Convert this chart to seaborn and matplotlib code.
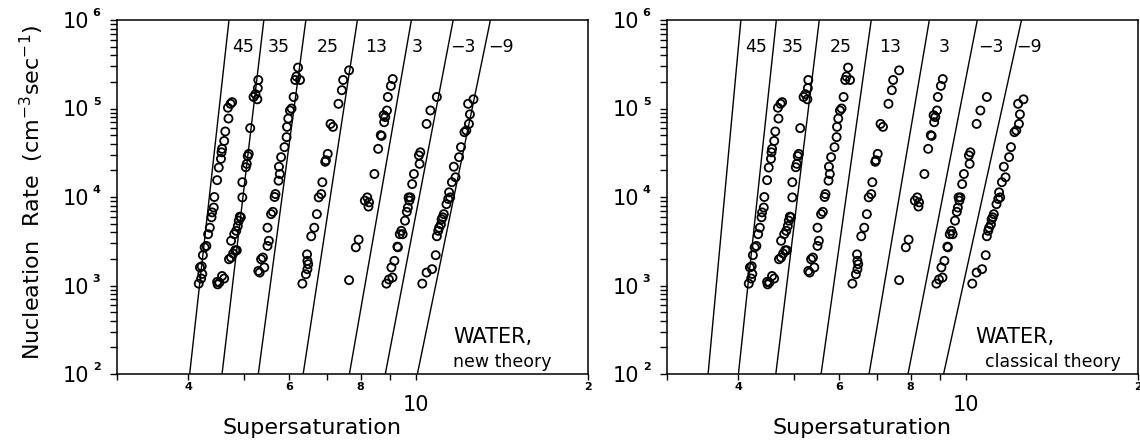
import numpy as np
import pandas as pd
import matplotlib
matplotlib.use("Agg")
import matplotlib.pyplot as plt
import matplotlib.transforms as mtransforms
from matplotlib.ticker import FixedLocator, FixedFormatter, NullFormatter, LogLocator
import seaborn as sns

# Temperatures (deg C) of the measurement series
temps = ["45", "35", "25", "13", "3", "-3", "-9"]
temp_labels = ["45", "35", "25", "13", "3", "\u22123", "\u22129"]

# Measured supersaturation S and nucleation rate J (cm^-3 s^-1) per temperature
s_45 = [4.17, 4.21, 4.23, 4.19, 4.22, 4.24, 4.27, 4.30, 4.33, 4.36, 4.39, 4.40, 4.43,
        4.44, 4.49, 4.52, 4.56, 4.57, 4.58, 4.62, 4.64, 4.70, 4.69, 4.74, 4.77]
j_45 = [1.05e3, 1.2e3, 1.35e3, 1.6e3, 1.65e3, 2.2e3, 2.7e3, 2.8e3, 3.8e3, 4.5e3, 5.9e3,
        6.7e3, 7.6e3, 1.0e4, 1.55e4, 2.15e4, 2.7e4, 3.2e4, 3.5e4, 4.3e4, 5.5e4, 7.7e4,
        1.02e5, 1.13e5, 1.18e5]

s_35 = [4.50, 4.49, 4.53, 4.58, 4.62, 4.71, 4.75, 4.79, 4.83, 4.86, 4.75, 4.81, 4.85,
        4.88, 4.90, 4.94, 4.92, 4.97, 4.97, 5.04, 5.06, 5.08, 5.10, 5.13, 5.20, 5.24,
        5.28, 5.29, 5.30]
j_35 = [1.03e3, 1.1e3, 1.08e3, 1.28e3, 1.2e3, 1.98e3, 2.07e3, 2.3e3, 2.5e3, 2.5e3, 3.2e3,
        3.8e3, 4.15e3, 4.7e3, 5.4e3, 5.9e3, 6.0e3, 9.9e3, 1.47e4, 2.17e4, 2.37e4, 2.9e4,
        3.07e4, 6.0e4, 1.35e5, 1.45e5, 1.27e5, 1.7e5, 2.1e5]

s_25 = [5.30, 5.33, 5.36, 5.40, 5.43, 5.50, 5.53, 5.50, 5.58, 5.62, 5.66, 5.68, 5.75,
        5.78, 5.76, 5.81, 5.89, 5.94, 5.95, 5.98, 6.02, 6.06, 6.11, 6.15, 6.18, 6.22, 6.27]
j_25 = [1.46e3, 1.4e3, 1.98e3, 2.07e3, 1.6e3, 2.8e3, 3.2e3, 4.5e3, 6.4e3, 6.8e3, 1.0e4,
        1.08e4, 1.53e4, 1.82e4, 2.2e4, 2.82e4, 3.66e4, 4.75e4, 6.2e4, 7.7e4, 9.5e4,
        1.0e5, 1.35e5, 2.1e5, 2.3e5, 2.9e5, 2.1e5]

s_13 = [6.33, 6.42, 6.46, 6.48, 6.46, 6.45, 6.56, 6.64, 6.71, 6.76, 6.83, 6.86, 6.94,
        7.01, 6.96, 7.09, 7.16, 7.32, 7.42, 7.46, 7.64]
j_13 = [1.05e3, 1.34e3, 1.53e3, 1.74e3, 1.9e3, 2.25e3, 3.6e3, 4.5e3, 6.4e3, 9.9e3,
        1.08e4, 1.47e4, 2.5e4, 3.07e4, 2.6e4, 6.7e4, 6.2e4, 1.13e5, 1.61e5, 2.1e5, 2.7e5]

s_3 = [7.64, 7.85, 7.94, 8.14, 8.22, 8.28, 8.26, 8.46, 8.59, 8.68, 8.71, 8.80, 8.84,
       8.78, 8.90, 8.93, 9.04, 9.11]
j_3 = [1.15e3, 2.7e3, 3.3e3, 9.1e3, 9.9e3, 8.7e3, 7.8e3, 1.82e4, 3.5e4, 5.0e4, 4.9e4,
       7.0e4, 8.0e4, 8.4e4, 9.5e4, 1.35e5, 1.8e5, 2.15e5]

s_m3 = [8.88, 8.97, 9.06, 9.10, 9.17, 9.30, 9.28, 9.37, 9.43, 9.48, 9.57, 9.64, 9.68,
        9.74, 9.78, 9.71, 9.85, 9.92, 10.15, 10.12, 10.18, 10.44, 10.60, 10.88]
j_m3 = [1.05e3, 1.17e3, 1.6e3, 1.23e3, 1.9e3, 2.7e3, 2.75e3, 3.8e3, 4.15e3, 3.8e3,
        5.4e3, 6.8e3, 7.6e3, 9.1e3, 9.9e3, 9.9e3, 1.4e4, 1.82e4, 2.37e4, 2.95e4,
        3.2e4, 6.7e4, 9.5e4, 1.35e5]

s_m9 = [10.26, 10.44, 10.67, 10.83, 10.88, 10.94, 10.98, 11.06, 11.14, 11.19, 11.09,
        11.31, 11.39, 11.48, 11.43, 11.56, 11.73, 11.65, 11.90, 11.99, 12.16, 12.25,
        12.38, 12.43, 12.34, 12.61]
j_m9 = [1.05e3, 1.4e3, 1.53e3, 2.2e3, 3.6e3, 4.15e3, 4.5e3, 4.9e3, 5.9e3, 6.4e3, 5.6e3,
        8.3e3, 9.5e3, 9.9e3, 1.13e4, 1.47e4, 1.67e4, 2.2e4, 2.82e4, 3.66e4, 5.4e4,
        5.65e4, 6.7e4, 8.6e4, 1.13e5, 1.27e5]

series_s = [s_45, s_35, s_25, s_13, s_3, s_m3, s_m9]
series_j = [j_45, j_35, j_25, j_13, j_3, j_m3, j_m9]

# Theory: supersaturation reached at J = 1e2 and J = 1e6 for each temperature
line_j = [1e2, 1e6]
new_s_lo = [4.02, 4.58, 5.30, 6.35, 7.65, 8.84, 10.06]
new_s_hi = [4.71, 5.42, 6.42, 7.90, 9.82, 11.62, 13.50]
cls_s_lo = [3.54, 4.00, 4.65, 5.58, 6.77, 7.92, 9.14]
cls_s_hi = [4.04, 4.66, 5.54, 6.83, 8.63, 10.47, 12.51]

# Axis ticks
x_major = [10]
x_major_labels = ["10"]
x_minor = [3, 4, 5, 6, 7, 8, 9, 20]
x_minor_labels = ["", "4", "", "6", "", "8", "", "2"]
y_major = [1e2, 1e3, 1e4, 1e5, 1e6]
y_exponents = ["2", "3", "4", "5", "6"]

# Temperature label placement (S at J = 5e5)
label_j = 5e5
new_label_s = [4.98, 5.75, 7.00, 8.53, 10.06, 12.1, 14.1]
cls_label_s = [4.29, 4.97, 6.04, 7.37, 9.17, 11.08, 12.9]

points = pd.concat(
    [pd.DataFrame({"S": s, "J": j, "T": t}) for s, j, t in zip(series_s, series_j, temps)],
    ignore_index=True,
)


def theory_frame(lo, hi):
    rows = []
    for t, a, b in zip(temps, lo, hi):
        rows.append({"S": a, "J": line_j[0], "T": t})
        rows.append({"S": b, "J": line_j[1], "T": t})
    return pd.DataFrame(rows)


sns.set_theme(style="ticks")
plt.rcParams["font.family"] = ["DejaVu Sans"]
plt.rcParams.update({
    "text.color": "black",
    "axes.labelcolor": "black",
    "axes.edgecolor": "black",
    "xtick.color": "black",
    "ytick.color": "black",
    "axes.linewidth": 1.1,
    "xtick.major.width": 1.0,
    "ytick.major.width": 1.0,
    "xtick.minor.width": 1.0,
    "ytick.minor.width": 1.0,
})

fig = plt.figure(figsize=(11.4, 4.45), dpi=100)
W, H = 1140.0, 445.0
ax_new = fig.add_axes([117 / W, 71 / H, 471 / W, 354 / H])
ax_cls = fig.add_axes([667 / W, 71 / H, 471 / W, 354 / H])


def draw_panel(ax, lo, hi, label_s, title1, title2, title_x, title2_x):
    lines = theory_frame(lo, hi)
    sns.lineplot(data=lines, x="S", y="J", units="T", estimator=None, sort=False,
                 color="black", linewidth=1.0, ax=ax, legend=False)
    sns.scatterplot(data=points, x="S", y="J", marker="o", s=34, facecolor="none",
                    edgecolor="black", linewidth=1.3, ax=ax, legend=False, zorder=3)
    ax.set_xscale("log")
    ax.set_yscale("log")
    ax.set_xlim(3, 20)
    ax.set_ylim(1e2, 1e6)

    ax.xaxis.set_major_locator(FixedLocator(x_major))
    ax.xaxis.set_major_formatter(FixedFormatter(x_major_labels))
    ax.xaxis.set_minor_locator(FixedLocator(x_minor))
    ax.xaxis.set_minor_formatter(FixedFormatter(x_minor_labels))
    ax.tick_params(axis="x", which="major", direction="out", length=4.3, pad=11,
                   labelsize=15, colors="black")
    ax.tick_params(axis="x", which="minor", direction="out", length=4.3, pad=1.5,
                   labelsize=8, colors="black")
    for lbl in ax.get_xticklabels(minor=True):
        lbl.set_fontweight("bold")

    ax.yaxis.set_major_locator(FixedLocator(y_major))
    ax.yaxis.set_major_formatter(FixedFormatter(["10"] * len(y_major)))
    ax.yaxis.set_minor_locator(LogLocator(base=10, subs=np.arange(2, 10)))
    ax.yaxis.set_minor_formatter(NullFormatter())
    ax.tick_params(axis="y", which="both", direction="out", length=5, colors="black")
    ax.tick_params(axis="y", which="major", pad=15, labelsize=15)

    trans = mtransforms.blended_transform_factory(ax.transAxes, ax.transData)
    for yv, ex in zip(y_major, y_exponents):
        ax.annotate(ex, xy=(0, yv), xycoords=trans, xytext=(-17.5, 5),
                    textcoords="offset points", ha="left", va="center",
                    fontsize=8, fontweight="bold")

    for sv, t in zip(label_s, temp_labels):
        ax.text(sv, label_j, t, ha="center", va="center", fontsize=12.5)

    ax.text(title_x, 0.105, title1, transform=ax.transAxes, ha="left", va="center",
            fontsize=15)
    ax.text(title2_x, 0.035, title2, transform=ax.transAxes, ha="left", va="center",
            fontsize=12.5)

    ax.set_xlabel("Supersaturation", fontsize=16)
    ax.xaxis.set_label_coords(0.415, -0.125)
    ax.set_ylabel("")
    for sp in ax.spines.values():
        sp.set_visible(True)
        sp.set_color("black")


draw_panel(ax_new, new_s_lo, new_s_hi, new_label_s, "WATER,", "new theory", 0.713, 0.713)
draw_panel(ax_cls, cls_s_lo, cls_s_hi, cls_label_s, "WATER,", "classical theory", 0.654, 0.675)

fig.text(32 / W, 1 - 192 / H, "Nucleation  Rate  (cm$^{-3}$sec$^{-1}$)", rotation=90,
         ha="center", va="center", fontsize=16)

fig.savefig("out.png", dpi=100, facecolor="white")
